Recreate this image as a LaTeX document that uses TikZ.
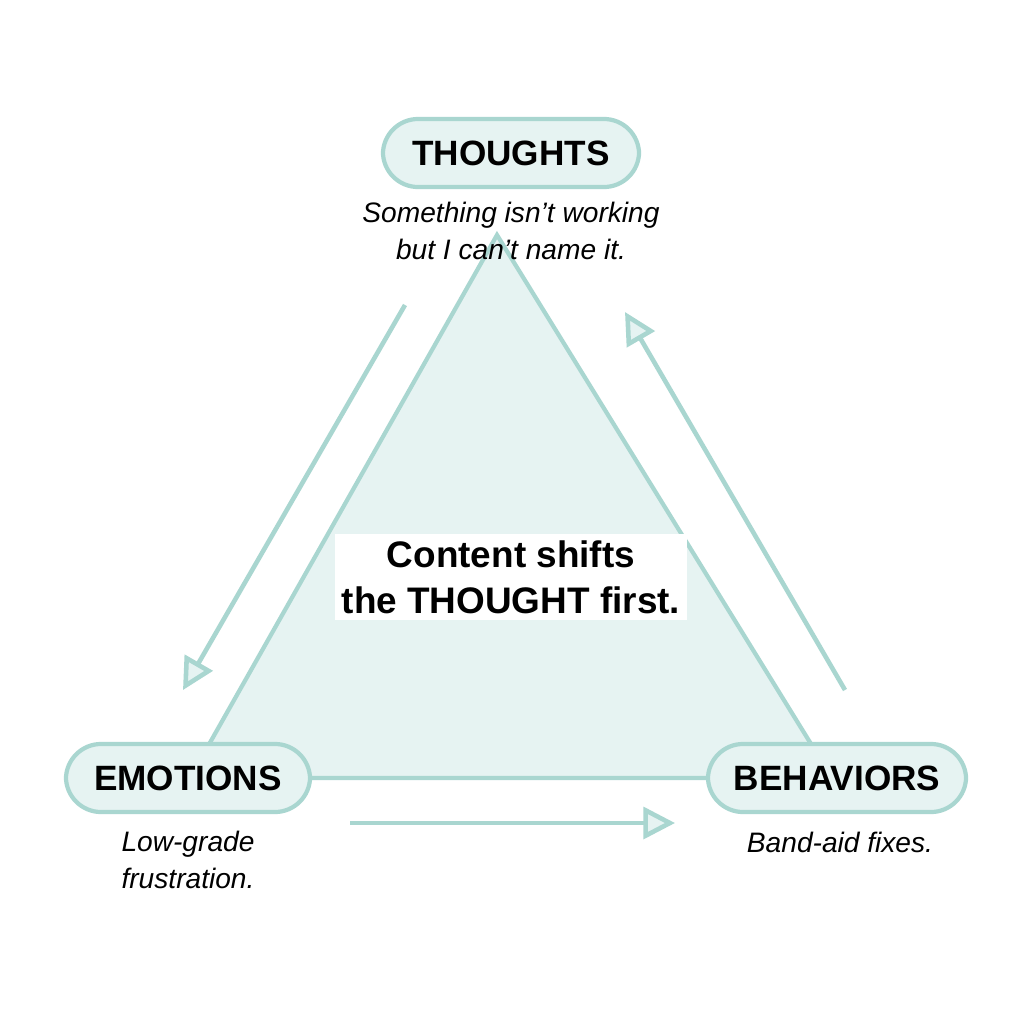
\documentclass[tikz,border=0pt]{standalone}
\usepackage{fontspec}
\setmainfont{Liberation Sans}
\usetikzlibrary{arrows.meta}
\definecolor{tealline}{HTML}{A9D6D0}
\definecolor{tealfill}{HTML}{E6F3F2}
\tikzset{
  stage/.style={rectangle, draw=tealline, fill=tealfill, line width=1.2pt, rounded corners=10pt, minimum height=0.68cm, font=\fontsize{10}{12}\selectfont\bfseries},
  note/.style={align=center, font=\fontsize{8}{10.5}\selectfont\itshape},
  cycle/.style={draw=tealline, line width=1.3pt, -{Triangle[open, fill=tealfill, length=9pt, width=9pt]}}
}
\begin{document}
\begin{tikzpicture}[x=0.01cm, y=-0.01cm]
      \useasboundingbox (0,0) rectangle (1024,1024);
      \fill[white] (0,0) rectangle (1024,1024);
      \coordinate (top) at (497,235);
      \coordinate (left) at (190,778);
      \coordinate (right) at (832,778);
      \filldraw[fill=tealfill, draw=tealline, line width=1.2pt] (top) -- (left) -- (right) -- cycle;

      \node (T) [stage, minimum width=2.56cm] at (511,153) {THOUGHTS};
      \node (E) [stage, minimum width=2.44cm] at (188,778) {EMOTIONS};
      \node (B) [stage, minimum width=2.58cm] at (837,778) {BEHAVIORS};

      \node (Tnote) [note] at (511,231) {Something isn’t working\\but I can’t name it.};
      \node (Enote) [note] at (188,860) {Low-grade\\frustration.};
      \node (Bnote) [note] at (840,842) {Band-aid fixes.};

      \node (C) [align=center, fill=white, inner sep=2pt, font=\fontsize{10.5}{13}\selectfont\bfseries] at (511,577) {Content shifts\\the THOUGHT first.};

      \coordinate (a1) at (405,305);
      \coordinate (a2) at (183,690);
      \coordinate (b1) at (845,690);
      \coordinate (b2) at (625,312);
      \coordinate (c1) at (350,823);
      \coordinate (c2) at (675,823);
      \draw[cycle] (a1) -- (a2);
      \draw[cycle] (b1) -- (b2);
      \draw[cycle] (c1) -- (c2);
\end{tikzpicture}
\end{document}
